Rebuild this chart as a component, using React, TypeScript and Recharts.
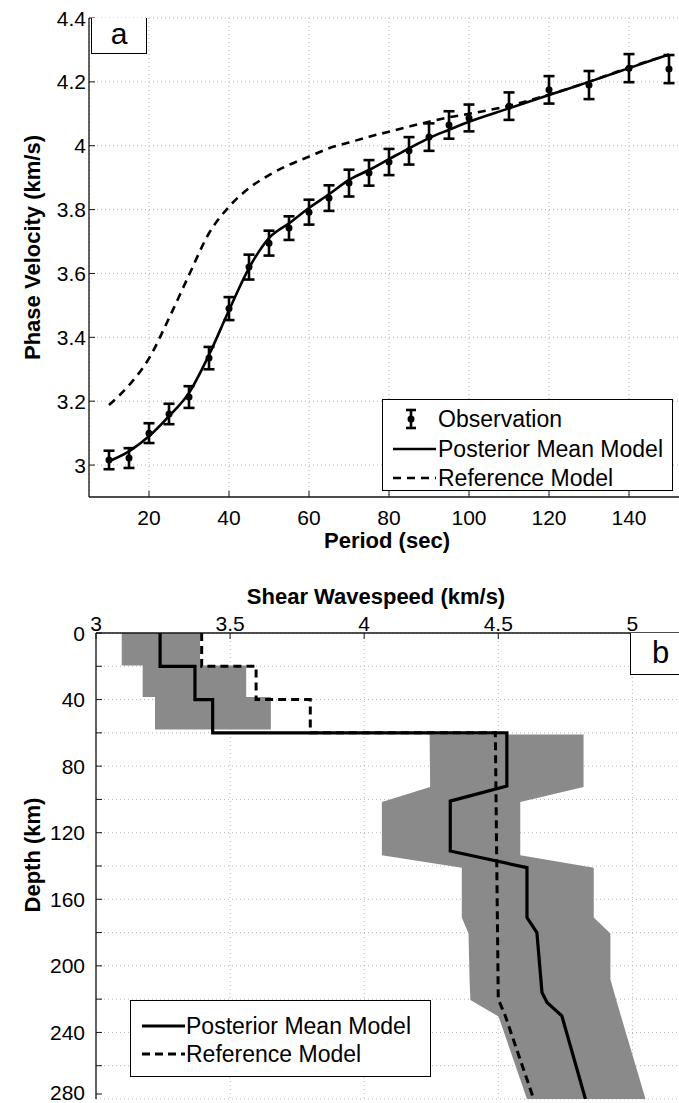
import React from "react";
import { ComposedChart, Line, Scatter, ErrorBar, Area, XAxis, YAxis, CartesianGrid } from "recharts";

const FONT = '"Liberation Sans", Arial, Helvetica, sans-serif';

// (a) phase velocity vs period
const periods = [10, 15, 20, 25, 30, 35, 40, 45, 50, 55, 60, 65, 70, 75, 80, 85, 90, 95, 100, 110, 120, 130, 140, 150];
const observed = [3.016, 3.022, 3.1, 3.16, 3.213, 3.335, 3.49, 3.62, 3.695, 3.742, 3.792, 3.836, 3.883, 3.915, 3.949, 3.984, 4.027, 4.065, 4.087, 4.124, 4.175, 4.19, 4.243, 4.24];
const obsError = [0.029, 0.031, 0.031, 0.032, 0.034, 0.035, 0.036, 0.039, 0.039, 0.037, 0.039, 0.04, 0.042, 0.04, 0.041, 0.043, 0.043, 0.043, 0.042, 0.043, 0.043, 0.044, 0.044, 0.044];
const posteriorPhase = [3.012, 3.043, 3.09, 3.153, 3.226, 3.345, 3.485, 3.617, 3.711, 3.757, 3.805, 3.848, 3.893, 3.924, 3.958, 3.992, 4.024, 4.05, 4.075, 4.117, 4.159, 4.2, 4.243, 4.286];
const referencePhase = [3.188, 3.25, 3.334, 3.46, 3.595, 3.726, 3.809, 3.867, 3.908, 3.94, 3.966, 3.992, 4.01, 4.028, 4.044, 4.06, 4.075, 4.089, 4.1, 4.125, 4.16, 4.2, 4.245, 4.285];
const periodTicks = [20, 40, 60, 80, 100, 120, 140];
const velocityTicks = [3, 3.2, 3.4, 3.6, 3.8, 4, 4.2, 4.4];

// (b) shear wavespeed vs depth
const postDepth = [0, 20, 20, 40, 40, 60, 60, 92, 101, 131, 141, 171, 180, 216, 222, 230, 280];
const postSpeed = [3.239, 3.239, 3.369, 3.369, 3.435, 3.435, 4.532, 4.532, 4.321, 4.321, 4.607, 4.607, 4.644, 4.663, 4.682, 4.737, 4.825];
const refDepth = [0, 20, 20, 40, 40, 60, 60, 220, 230, 280];
const refSpeed = [3.394, 3.394, 3.597, 3.597, 3.799, 3.799, 4.489, 4.5, 4.526, 4.632];
const crustDepth = [0, 19.5, 19.5, 38.5, 38.5, 58];
const crustLow = [3.096, 3.096, 3.174, 3.174, 3.22, 3.22];
const crustHigh = [3.388, 3.388, 3.56, 3.56, 3.652, 3.652];
const mantleDepth = [61, 92.5, 101.5, 133.5, 141, 171, 180.5, 208, 220.5, 230.5, 280];
const mantleLow = [4.244, 4.246, 4.066, 4.066, 4.364, 4.364, 4.389, 4.393, 4.396, 4.501, 4.607];
const mantleHigh = [4.818, 4.818, 4.582, 4.582, 4.856, 4.856, 4.918, 4.918, 4.94, 4.958, 5.049];
const speedTicks = [3, 3.5, 4, 4.5, 5];
const depthTicks = [0, 20, 40, 60, 80, 100, 120, 140, 160, 180, 200, 220, 240, 260, 280];

const phaseRows = periods.map((p, i) => ({
  period: p,
  obs: observed[i],
  err: obsError[i],
  post: posteriorPhase[i],
  ref: referencePhase[i],
}));
const postRows = postDepth.map((d, i) => ({ depth: d, speed: postSpeed[i] }));
const refRows = refDepth.map((d, i) => ({ depth: d, speed: refSpeed[i] }));
const crustRows = crustDepth.map((d, i) => ({ depth: d, range: [crustLow[i], crustHigh[i]] }));
const mantleRows = mantleDepth.map((d, i) => ({ depth: d, range: [mantleLow[i], mantleHigh[i]] }));

const AXIS = "#151515";
const B_HEIGHT = 543;

// inward tick marks, MATLAB style
const BottomTick = ({ x, y, payload }: any) => (
  <g>
    <line x1={x} x2={x} y1={y} y2={y - 6} stroke={AXIS} />
    <text x={x} y={y + 27.5} textAnchor="middle" fontSize={21} fontFamily={FONT} fill="#000">
      {payload.value}
    </text>
  </g>
);
const DownMark = ({ x, y }: any) => <line x1={x} x2={x} y1={y} y2={y + 6} stroke={AXIS} />;
const UpMark = ({ x, y }: any) => <line x1={x} x2={x} y1={y} y2={y - 6} stroke={AXIS} />;
const VelTick = ({ x, y, payload }: any) => (
  <g>
    <line x1={x} x2={x + 6} y1={y} y2={y} stroke={AXIS} />
    <text x={x - 3} y={y + 7.5} textAnchor="end" fontSize={21} fontFamily={FONT} fill="#000">
      {payload.value}
    </text>
  </g>
);
const SpeedTick = ({ x, y, payload }: any) => (
  <g>
    <line x1={x} x2={x} y1={y} y2={y + 6} stroke={AXIS} />
    <text x={x} y={y - 2} textAnchor="middle" fontSize={21} fontFamily={FONT} fill="#000">
      {payload.value}
    </text>
  </g>
);
const DepthTick = ({ x, y, payload }: any) => (
  <g>
    <line x1={x} x2={x + 6} y1={y} y2={y} stroke={AXIS} />
    {payload.value % 40 === 0 && (
      <text x={x - 11} y={Math.min(y + 7.5, B_HEIGHT - 3)} textAnchor="end" fontSize={21} fontFamily={FONT} fill="#000">
        {payload.value}
      </text>
    )}
  </g>
);

const title = (text: string, dx: number, dy: number, rotate = false) => (p: any) => {
  const vb = p.viewBox;
  const cx = rotate ? vb.x + dx : vb.x + vb.width / 2 + dx;
  const cy = rotate ? vb.y + vb.height / 2 + dy : vb.y + dy;
  return (
    <text
      x={cx}
      y={cy}
      textAnchor="middle"
      fontSize={22}
      fontWeight="bold"
      fontFamily={FONT}
      fill="#000"
      transform={rotate ? `rotate(-90 ${cx} ${cy})` : undefined}
      dominantBaseline={rotate ? "central" : undefined}
    >
      {text}
    </text>
  );
};

const ObsShape = (p: any) => <circle cx={p.cx} cy={p.cy} r={3.5} fill="#000" />;

const legendRow = (top: number, icon: React.ReactNode, text: string) => (
  <div style={{ position: "absolute", left: 0, top: top - 15, height: 30, display: "flex", alignItems: "center" }}>
    <svg width={55} height={30} style={{ display: "block" }}>
      {icon}
    </svg>
    <span style={{ fontSize: 23, lineHeight: "30px", whiteSpace: "nowrap" }}>{text}</span>
  </div>
);

export default function App() {
  return (
    <div
      style={{
        position: "absolute",
        left: 0,
        top: 0,
        width: 679,
        height: 1103,
        overflow: "hidden",
        background: "#fff",
        fontFamily: FONT,
        color: "#000",
      }}
    >
      {/* panel a */}
      <div style={{ position: "absolute", left: 0, top: 0 }}>
        <ComposedChart width={700} height={560} data={phaseRows} margin={{ top: 18, right: 11, bottom: 0, left: 0 }}>
          <CartesianGrid stroke="#b5b5b5" strokeDasharray="1 3" />
          <XAxis
            dataKey="period"
            type="number"
            domain={[5, 155]}
            ticks={periodTicks}
            allowDataOverflow
            height={63}
            tickSize={0}
            tickMargin={0}
            tickLine={false}
            axisLine={{ stroke: AXIS, strokeWidth: 1.3 }}
            tick={BottomTick}
            label={title("Period (sec)", -2, 51)}
          />
          <XAxis
            xAxisId="top"
            orientation="top"
            dataKey="period"
            type="number"
            domain={[5, 155]}
            ticks={periodTicks}
            allowDataOverflow
            height={0}
            tickSize={0}
            tickMargin={0}
            tickLine={false}
            axisLine={{ stroke: AXIS, strokeWidth: 1.3 }}
            tick={DownMark}
          />
          <YAxis
            type="number"
            domain={[2.9, 4.4]}
            ticks={velocityTicks}
            allowDataOverflow
            width={89}
            tickSize={0}
            tickMargin={0}
            tickLine={false}
            axisLine={{ stroke: AXIS, strokeWidth: 1.3 }}
            tick={VelTick}
            label={title("Phase Velocity (km/s)", 32, -10, true)}
          />
          <Line dataKey="ref" type="monotone" stroke="#000" strokeWidth={2.6} strokeDasharray="8 6" dot={false} isAnimationActive={false} />
          <Line dataKey="post" type="monotone" stroke="#000" strokeWidth={2.6} dot={false} isAnimationActive={false} />
          <Scatter dataKey="obs" shape={ObsShape} isAnimationActive={false}>
            <ErrorBar dataKey="err" direction="y" width={5.5} stroke="#000" strokeWidth={2.6} isAnimationActive={false} />
          </Scatter>
        </ComposedChart>
      </div>

      <div
        style={{
          position: "absolute",
          left: 91,
          top: 18,
          width: 56,
          height: 36,
          border: "1px solid #000",
          borderTop: "none",
          boxSizing: "border-box",
          background: "#fff",
          fontSize: 30,
          lineHeight: "32px",
          textAlign: "center",
        }}
      >
        a
      </div>

      <div
        style={{
          position: "absolute",
          left: 382,
          top: 399,
          width: 291,
          height: 92,
          border: "1px solid #000",
          boxSizing: "border-box",
          background: "#fff",
        }}
      >
        {legendRow(
          19,
          <g>
            <line x1={28} x2={28} y1={6} y2={24} stroke="#000" strokeWidth={2.6} />
            <line x1={23} x2={33} y1={6} y2={6} stroke="#000" strokeWidth={2.6} />
            <line x1={23} x2={33} y1={24} y2={24} stroke="#000" strokeWidth={2.6} />
            <circle cx={28} cy={15} r={3.5} fill="#000" />
          </g>,
          "Observation"
        )}
        {legendRow(49, <line x1={10} x2={53} y1={15} y2={15} stroke="#000" strokeWidth={2.6} />, "Posterior Mean Model")}
        {legendRow(
          78,
          <line x1={10} x2={53} y1={15} y2={15} stroke="#000" strokeWidth={2.6} strokeDasharray="8 6" />,
          "Reference Model"
        )}
      </div>

      {/* panel b */}
      <div style={{ position: "absolute", left: 0, top: 560 }}>
        <ComposedChart layout="vertical" width={700} height={B_HEIGHT} margin={{ top: 28, right: 14, bottom: 4, left: 0 }}>
          <CartesianGrid stroke="#b5b5b5" strokeDasharray="1 3" />
          <XAxis
            type="number"
            orientation="top"
            domain={[3, 5.2]}
            ticks={speedTicks}
            allowDataOverflow
            height={45}
            tickSize={0}
            tickMargin={0}
            tickLine={false}
            axisLine={{ stroke: AXIS, strokeWidth: 1.3 }}
            tick={SpeedTick}
            label={title("Shear Wavespeed (km/s)", -15, 15.5)}
          />
          <XAxis
            xAxisId="bot"
            type="number"
            orientation="bottom"
            domain={[3, 5.2]}
            ticks={speedTicks}
            allowDataOverflow
            height={0}
            tickSize={0}
            tickMargin={0}
            tickLine={false}
            axisLine={{ stroke: AXIS, strokeWidth: 1.3 }}
            tick={UpMark}
          />
          <YAxis
            type="number"
            dataKey="depth"
            domain={[0, 280]}
            ticks={depthTicks}
            allowDataOverflow
            width={96}
            tickSize={0}
            tickMargin={0}
            tickLine={false}
            axisLine={{ stroke: AXIS, strokeWidth: 1.3 }}
            tick={DepthTick}
            label={title("Depth (km)", 32, -11, true)}
          />
          <Area data={crustRows} dataKey="range" type="linear" fill="#8a8a8a" fillOpacity={1} stroke="none" isAnimationActive={false} />
          <Area data={mantleRows} dataKey="range" type="linear" fill="#8a8a8a" fillOpacity={1} stroke="none" isAnimationActive={false} />
          <Line data={refRows} dataKey="speed" type="linear" stroke="#000" strokeWidth={3} strokeDasharray="8 5" dot={false} isAnimationActive={false} />
          <Line data={postRows} dataKey="speed" type="linear" stroke="#000" strokeWidth={3.2} dot={false} isAnimationActive={false} />
        </ComposedChart>
      </div>

      <div
        style={{
          position: "absolute",
          left: 630,
          top: 633,
          width: 70,
          height: 42,
          border: "1px solid #000",
          borderTop: "none",
          boxSizing: "border-box",
          background: "#fff",
          fontSize: 31,
          lineHeight: "40px",
          paddingLeft: 21,
        }}
      >
        b
      </div>

      <div
        style={{
          position: "absolute",
          left: 130,
          top: 1000,
          width: 301,
          height: 77,
          border: "1px solid #000",
          boxSizing: "border-box",
          background: "#fff",
        }}
      >
        {legendRow(25, <line x1={11} x2={54} y1={15} y2={15} stroke="#000" strokeWidth={3} />, "Posterior Mean Model")}
        {legendRow(
          53,
          <line x1={11} x2={54} y1={15} y2={15} stroke="#000" strokeWidth={3} strokeDasharray="8 5" />,
          "Reference Model"
        )}
      </div>
    </div>
  );
}
